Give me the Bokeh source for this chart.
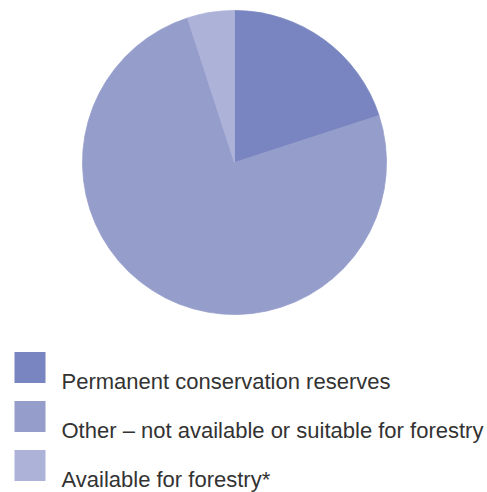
import math
from bokeh.plotting import figure
from bokeh.models import ColumnDataSource, Range1d
from bokeh.core.properties import value
from bokeh.embed import file_html
from bokeh.resources import INLINE

categories = ["Permanent conservation reserves",
              "Other \u2013 not available or suitable for forestry",
              "Available for forestry*"]
shares = [20, 75, 5]
colors = ["#7985C0", "#959DCB", "#ADB2D9"]

W, H = 487, 492
CX, CY, R = 234, H - 162, 152

total = float(sum(shares))
starts, ends = [], []
cum = 0.0
for s in shares:
    starts.append(math.pi / 2 - 2 * math.pi * cum / total)
    cum += s
    ends.append(math.pi / 2 - 2 * math.pi * cum / total)

src = ColumnDataSource(dict(cat=categories, share=shares, color=colors,
                            start=starts, end=ends))

p = figure(width=W, height=H, output_backend="svg", toolbar_location=None,
           x_range=Range1d(0, W), y_range=Range1d(0, H), min_border=0,
           outline_line_color=None, background_fill_color="white",
           border_fill_color="white")
p.axis.visible = False
p.grid.visible = False

p.wedge(x=CX, y=CY, radius=R, start_angle="start", end_angle="end",
        direction="clock", fill_color="color", line_color="color",
        line_width=0.8, source=src)

# legend
row_y = [H - (367.0 + i * 49.0) for i in range(len(categories))]
leg = ColumnDataSource(dict(cat=categories, color=colors, y=row_y,
                            ty=[y - 13.5 for y in row_y]))
p.rect(x=29.5, y="y", width=31, height=31, fill_color="color",
       line_color=None, source=leg)
p.text(x=61, y="ty", text="cat", text_font=value("Liberation Sans"),
       text_font_size="22px", text_color="#333333",
       text_baseline="alphabetic", text_align="left", source=leg)

open("out.html", "w").write(file_html(p, INLINE))
